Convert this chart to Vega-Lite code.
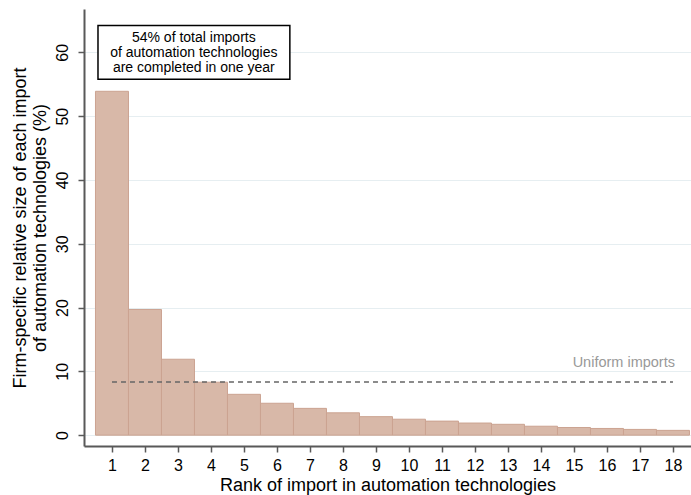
{
  "$schema": "https://vega.github.io/schema/vega-lite/v6.json",
  "width": 607,
  "height": 437,
  "autosize": {"type": "none"},
  "padding": {"left": 84, "top": 9, "right": 0, "bottom": 49},
  "background": "white",
  "config": {
    "font": "Liberation Sans",
    "view": {"stroke": null}
  },
  "datasets": {
    "bars": [
      {"rank": 1, "share": 53.9},
      {"rank": 2, "share": 19.7},
      {"rank": 3, "share": 11.9},
      {"rank": 4, "share": 8.3},
      {"rank": 5, "share": 6.4},
      {"rank": 6, "share": 5.0},
      {"rank": 7, "share": 4.2},
      {"rank": 8, "share": 3.5},
      {"rank": 9, "share": 2.9},
      {"rank": 10, "share": 2.5},
      {"rank": 11, "share": 2.2},
      {"rank": 12, "share": 1.9},
      {"rank": 13, "share": 1.7},
      {"rank": 14, "share": 1.4},
      {"rank": 15, "share": 1.2},
      {"rank": 16, "share": 1.05},
      {"rank": 17, "share": 0.9},
      {"rank": 18, "share": 0.75}
    ],
    "uniform": [{"from": 1, "to": 18, "share": 8.35}],
    "box": [{"x1": 0.576, "x2": 6.39, "y1": 55.8, "y2": 64.2, "xc": 3.48, "yc": 63.3, "label": "54% of total imports\nof automation technologies\nare completed in one year"}],
    "ulabel": [{"x": 18.06, "y": 11.3, "label": "Uniform imports"}]
  },
  "layer": [
    {
      "data": {"name": "bars"},
      "mark": {"type": "bar", "width": 33, "fill": "#d8b8a8", "stroke": "#cba391", "strokeWidth": 1},
      "encoding": {
        "x": {
          "field": "rank", "type": "quantitative",
          "scale": {"domain": [0.152, 18.546], "nice": false, "zero": false, "padding": 0},
          "axis": {
            "values": [1,2,3,4,5,6,7,8,9,10,11,12,13,14,15,16,17,18],
            "tickCount": 40,
            "format": "d",
            "title": "Rank of import in automation technologies",
            "titleFontSize": 18, "titleFontWeight": "normal", "titleColor": "black", "titlePadding": 3,
            "labelFontSize": 16, "labelColor": "black", "labelPadding": 5, "labelFlush": false, "labelOverlap": false,
            "domainColor": "#595959", "domainWidth": 2,
            "tickColor": "#595959", "tickWidth": 1.5, "tickSize": 6,
            "grid": false
          }
        },
        "y": {
          "field": "share", "type": "quantitative",
          "scale": {"domain": [-1.7, 66.8], "nice": false, "zero": false, "padding": 0},
          "axis": {
            "values": [0, 10, 20, 30, 40, 50, 60],
            "tickCount": 20,
            "format": "d",
            "title": ["Firm-specific relative size of each import", "of automation technologies (%)"],
            "titleFontSize": 18, "titleFontWeight": "normal", "titleColor": "black", "titlePadding": 5,
            "labelFontSize": 16, "labelColor": "black", "labelAngle": 270, "labelAlign": "center", "labelBaseline": "bottom", "labelPadding": 8, "labelOverlap": false,
            "domainColor": "#595959", "domainWidth": 2,
            "tickColor": "#595959", "tickWidth": 1.5, "tickSize": 6,
            "grid": true, "gridColor": "#e6eef1", "gridWidth": 1.2
          }
        }
      }
    },
    {
      "data": {"name": "uniform"},
      "mark": {"type": "rule", "color": "#666666", "strokeDash": [5, 4], "strokeWidth": 1.5},
      "encoding": {
        "x": {"field": "from", "type": "quantitative"},
        "x2": {"field": "to"},
        "y": {"field": "share", "type": "quantitative"}
      }
    },
    {
      "data": {"name": "ulabel"},
      "mark": {"type": "text", "align": "right", "baseline": "middle", "fontSize": 14.5, "color": "#999999"},
      "encoding": {
        "x": {"field": "x", "type": "quantitative"},
        "y": {"field": "y", "type": "quantitative"},
        "text": {"field": "label"}
      }
    },
    {
      "data": {"name": "box"},
      "mark": {"type": "rect", "fill": "white", "stroke": "black", "strokeWidth": 1.5},
      "encoding": {
        "x": {"field": "x1", "type": "quantitative"},
        "x2": {"field": "x2"},
        "y": {"field": "y1", "type": "quantitative"},
        "y2": {"field": "y2"}
      }
    },
    {
      "data": {"name": "box"},
      "mark": {"type": "text", "align": "center", "baseline": "top", "fontSize": 14, "lineHeight": 15, "lineBreak": "\n", "color": "black"},
      "encoding": {
        "x": {"field": "xc", "type": "quantitative"},
        "y": {"field": "yc", "type": "quantitative"},
        "text": {"field": "label"}
      }
    }
  ]
}
